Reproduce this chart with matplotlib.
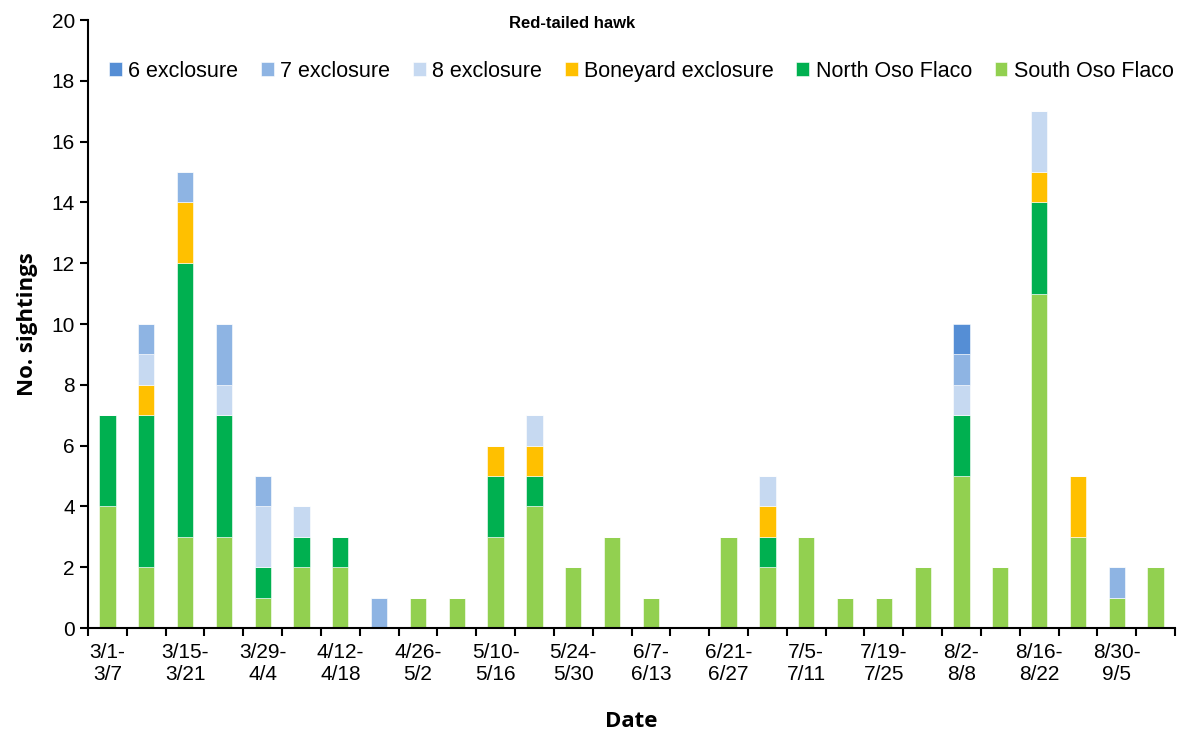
import numpy as np
import matplotlib.pyplot as plt

weeks = ['3/1-\n3/7', '', '3/15-\n3/21', '', '3/29-\n4/4', '', '4/12-\n4/18', '',
         '4/26-\n5/2', '', '5/10-\n5/16', '', '5/24-\n5/30', '', '6/7-\n6/13', '',
         '6/21-\n6/27', '', '7/5-\n7/11', '', '7/19-\n7/25', '', '8/2-\n8/8', '',
         '8/16-\n8/22', '', '8/30-\n9/5', '']

south_oso = [4, 2, 3, 3, 1, 2, 2, 0, 1, 1, 3, 4, 2, 3, 1, 0, 3, 2, 3, 1, 1, 2, 5, 2, 11, 3, 1, 2]
north_oso = [3, 5, 9, 4, 1, 1, 1, 0, 0, 0, 2, 1, 0, 0, 0, 0, 0, 1, 0, 0, 0, 0, 2, 0, 3, 0, 0, 0]
boneyard = [0, 1, 2, 0, 0, 0, 0, 0, 0, 0, 1, 1, 0, 0, 0, 0, 0, 1, 0, 0, 0, 0, 0, 0, 1, 2, 0, 0]
excl_8 = [0, 1, 0, 1, 2, 1, 0, 0, 0, 0, 0, 1, 0, 0, 0, 0, 0, 1, 0, 0, 0, 0, 1, 0, 2, 0, 0, 0]
excl_7 = [0, 1, 1, 2, 1, 0, 0, 1, 0, 0, 0, 0, 0, 0, 0, 0, 0, 0, 0, 0, 0, 0, 1, 0, 0, 0, 1, 0]
excl_6 = [0, 0, 0, 0, 0, 0, 0, 0, 0, 0, 0, 0, 0, 0, 0, 0, 0, 0, 0, 0, 0, 0, 1, 0, 0, 0, 0, 0]

# stacking order bottom -> top
series = [
    ('South Oso Flaco', south_oso, '#92D050'),
    ('North Oso Flaco', north_oso, '#00B050'),
    ('Boneyard exclosure', boneyard, '#FFC000'),
    ('8 exclosure', excl_8, '#C6D9F1'),
    ('7 exclosure', excl_7, '#8EB4E3'),
    ('6 exclosure', excl_6, '#558ED5'),
]

plt.rcParams['font.family'] = ['Liberation Sans', 'DejaVu Sans']

fig = plt.figure(figsize=(11.81, 7.30), dpi=100)
ax = fig.add_axes([88 / 1181, 102 / 730, 1087 / 1181, 608 / 730])

x = np.arange(len(weeks))
bottom = np.zeros(len(weeks))
handles = {}
for name, vals, color in series:
    vals = np.array(vals, dtype=float)
    h = ax.bar(x, vals, width=0.42, bottom=bottom, color=color,
               edgecolor='white', linewidth=0.4, label=name)
    handles[name] = h
    bottom += vals

order = ['6 exclosure', '7 exclosure', '8 exclosure', 'Boneyard exclosure',
         'North Oso Flaco', 'South Oso Flaco']
ax.legend([handles[n] for n in order], order, ncol=6, frameon=False,
          loc='center', bbox_to_anchor=(0.509, 0.916), fontsize=15.5,
          handlelength=0.6, handleheight=0.6, handletextpad=0.3,
          columnspacing=1.05, borderpad=0, borderaxespad=0)

ax.text(0.445, 0.995, 'Red-tailed hawk', transform=ax.transAxes,
        ha='center', va='center', fontsize=12, fontweight='bold')

ax.set_xlim(-0.45, len(weeks) - 0.55)
ax.set_ylim(0, 20)
ax.set_yticks(np.arange(0, 21, 2))
ax.set_xticks(x)
ax.set_xticklabels(weeks, linespacing=1.15)
ax.set_xticks(np.arange(-0.5, len(weeks)), minor=True)
ax.tick_params(axis='x', which='major', length=0, labelsize=15, pad=11)
ax.tick_params(axis='x', which='minor', length=6, width=1.5)
ax.tick_params(axis='y', labelsize=15, length=6, width=1.5)

for side in ['top', 'right']:
    ax.spines[side].set_visible(False)
for side in ['left', 'bottom']:
    ax.spines[side].set_linewidth(1.5)

ax.set_ylabel('No. sightings', fontsize=16, fontweight='bold',
              family=['Open Sans', 'DejaVu Sans'], labelpad=10)
ax.set_xlabel('Date', fontsize=16, fontweight='bold',
              family=['Open Sans', 'DejaVu Sans'], labelpad=20)

plt.savefig('out.png', dpi=100)
